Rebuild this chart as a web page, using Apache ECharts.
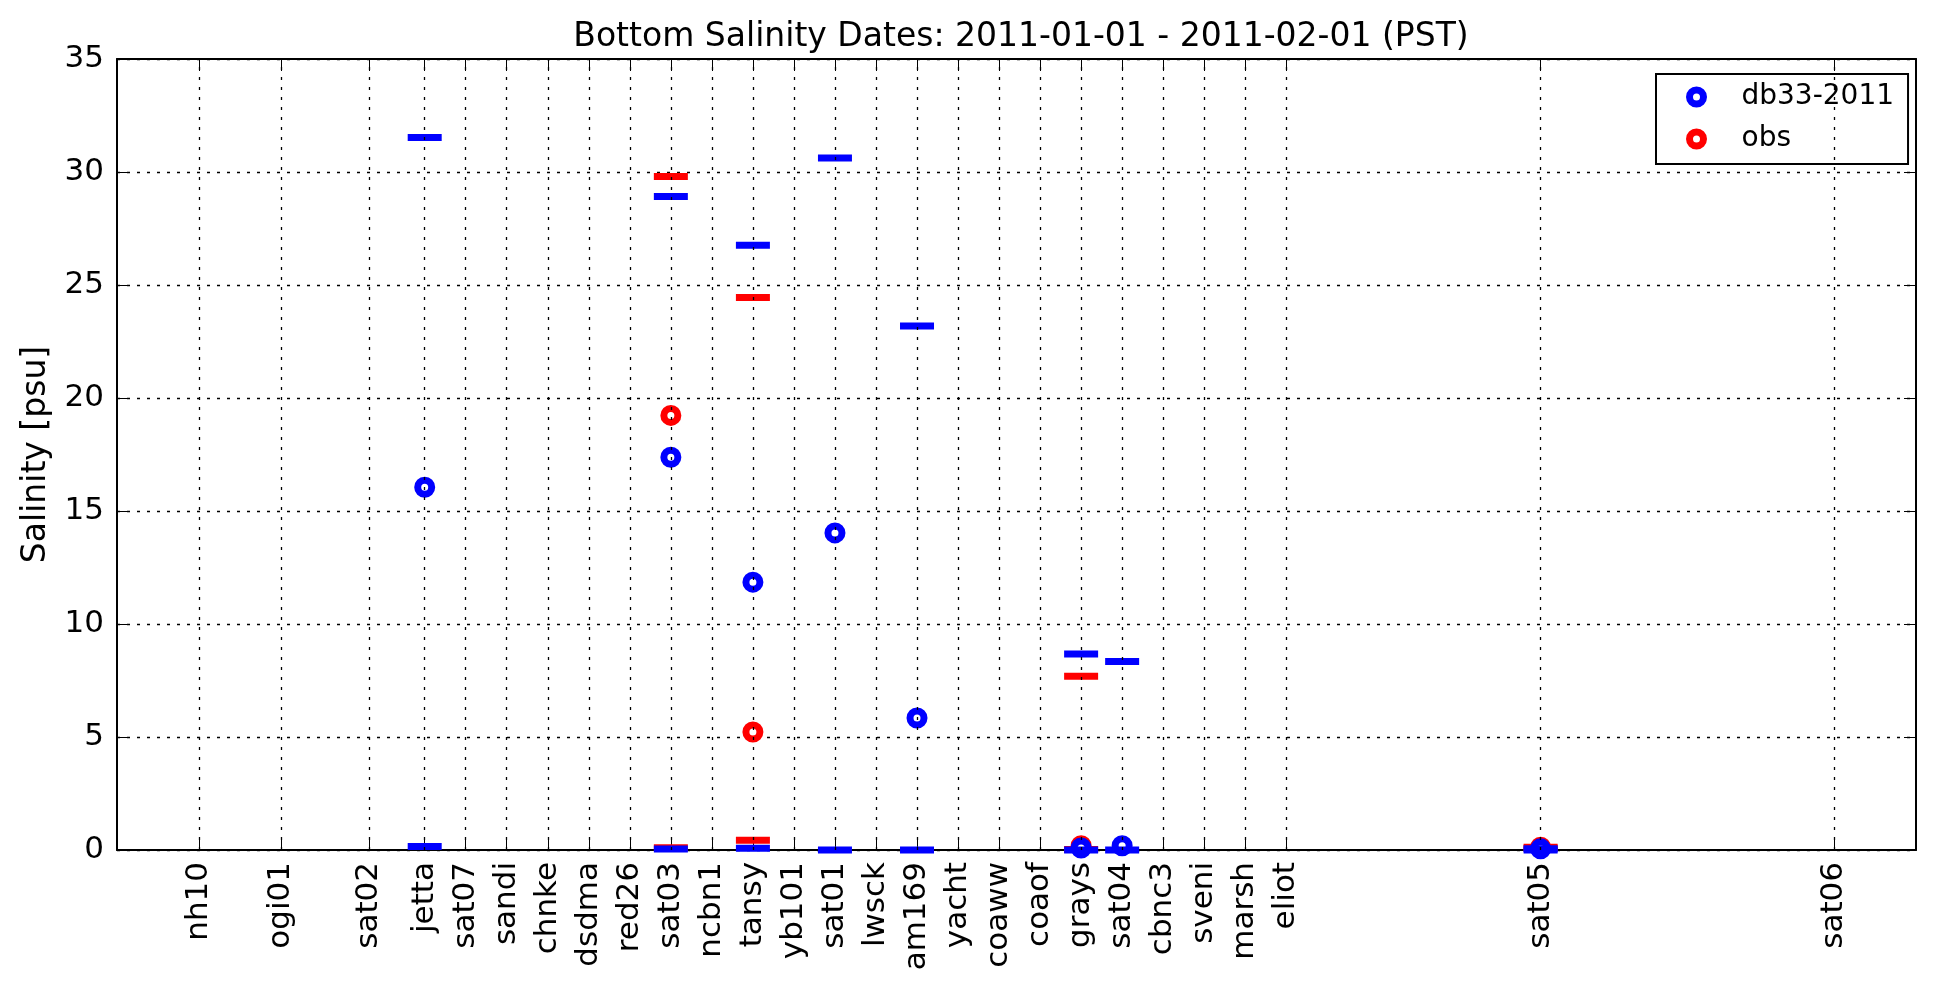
<!DOCTYPE html>
<html><head><meta charset="utf-8">
<script src="https://cdn.jsdelivr.net/npm/echarts@6/dist/echarts.min.js"></script>
<style>html,body{margin:0;padding:0;background:#fff}#c{width:1935px;height:993px}</style>
</head><body><div id="c"></div>
<script>
const stations = ['nh10','ogi01','sat02','jetta','sat07','sandi','chnke','dsdma','red26','sat03','ncbn1','tansy','yb101','sat01','lwsck','am169','yacht','coaww','coaof','grays','sat04','cbnc3','sveni','marsh','eliot','sat05','sat06'];
const stationPos = [2.0,4.0,6.15,7.5,8.5,9.5,10.5,11.5,12.5,13.5,14.5,15.5,16.5,17.5,18.5,19.5,20.5,21.5,22.5,23.5,24.5,25.5,26.5,27.5,28.5,34.7,41.85];
const yTicks = [0,5,10,15,20,25,30,35];

const modelMean = [null,null,null,16.05,null,null,null,null,null,17.38,null,11.85,null,14.03,null,5.84,null,null,null,0.09,0.19,null,null,null,null,0.05,null];
const modelMax  = [null,null,null,31.53,null,null,null,null,null,28.92,null,26.76,null,30.62,null,23.19,null,null,null,8.67,8.34,null,null,null,null,0.06,null];
const modelMin  = [null,null,null,0.15,null,null,null,null,null,0.04,null,0.08,null,0.0,null,0.0,null,null,null,0.0,0.0,null,null,null,null,0.0,null];
const obsMean   = [null,null,null,null,null,null,null,null,null,19.23,null,5.22,null,null,null,null,null,null,null,0.19,null,null,null,null,null,0.12,null];
const obsMax    = [null,null,null,null,null,null,null,null,null,29.8,null,24.45,null,null,null,null,null,null,null,7.69,null,null,null,null,null,0.12,null];
const obsMin    = [null,null,null,null,null,null,null,null,null,0.1,null,0.43,null,null,null,null,null,null,null,0.02,null,null,null,null,null,0.08,null];

const MODEL = 'db33-2011', OBS = 'obs';
const BLUE = '#0000ff', RED = '#ff0000';
const FONT = 'DejaVu Sans';

function pts(arr){ const out=[]; arr.forEach((v,i)=>{ if(v!=null) out.push([stationPos[i], v]); }); return out; }
function nameAt(v){ let best=0, d=Infinity; stationPos.forEach((p,i)=>{ const dd=Math.abs(p-v); if(dd<d){d=dd;best=i;} }); return stations[best]; }

const ringStyle = c => ({color:'#ffffff', borderColor:c, borderWidth:7, opacity:1});
const dash = (name, arr, c) => ({type:'scatter', name, data:pts(arr), symbol:'rect', symbolSize:[34,7], itemStyle:{color:c, opacity:1}, silent:true, clip:true});
const ring = (name, arr, c) => ({type:'scatter', name, data:pts(arr), symbol:'circle', symbolSize:14, itemStyle:ringStyle(c), silent:true, clip:true});

const gridLineStyle = {color:'#000', width:1.3, type:[3,7]};

const chart = echarts.init(document.getElementById('c'), null, {renderer:'canvas'});
chart.setOption({
  animation:false,
  backgroundColor:'#fff',
  textStyle:{fontFamily:FONT},
  title:{text:'Bottom Salinity Dates: 2011-01-01 - 2011-02-01 (PST)', left:1016, textAlign:'center', top:16,
    textStyle:{fontFamily:FONT, fontSize:33, fontWeight:'normal', color:'#000'}},
  grid:{left:117, right:19, top:59, bottom:143, containLabel:false},
  legend:{
    orient:'vertical', left:1656, top:74, padding:[8,14,10,30], itemGap:12,
    itemWidth:80, itemHeight:14, backgroundColor:'#fff', borderColor:'#000', borderWidth:2, borderRadius:0,
    textStyle:{fontFamily:FONT, fontSize:28, color:'#000', lineHeight:30},
    data:[
      {name:MODEL, icon:'circle', itemStyle:ringStyle(BLUE)},
      {name:OBS, icon:'circle', itemStyle:ringStyle(RED)}
    ]
  },
  xAxis:[
    {type:'value', position:'bottom', min:0, max:43.85,
     axisLine:{show:true, onZero:false, lineStyle:{color:'#000', width:2}},
     axisTick:{show:true, inside:true, length:12, customValues:stationPos, lineStyle:{color:'#000', width:1}},
     axisLabel:{show:true, customValues:stationPos, rotate:90, margin:12, fontFamily:FONT, fontSize:31, color:'#000', formatter:v=>nameAt(v)},
     splitLine:{show:false}},
    {type:'value', position:'top', min:0, max:43.85,
     axisLine:{show:true, onZero:false, lineStyle:{color:'#000', width:2}},
     axisTick:{show:true, inside:true, length:12, customValues:stationPos, lineStyle:{color:'#000', width:1}},
     axisLabel:{show:false}, splitLine:{show:false}}
  ],
  yAxis:[
    {type:'value', position:'left', min:yTicks[0], max:yTicks[yTicks.length-1], interval:5,
     name:'Salinity [psu]', nameLocation:'middle', nameGap:64, nameRotate:90,
     nameTextStyle:{fontFamily:FONT, fontSize:33, color:'#000'},
     axisLine:{show:true, onZero:false, lineStyle:{color:'#000', width:2}},
     axisTick:{show:true, inside:true, length:12, lineStyle:{color:'#000', width:1}},
     axisLabel:{fontFamily:FONT, fontSize:31, color:'#000', margin:13},
     splitLine:{show:true, lineStyle:gridLineStyle}},
    {type:'value', position:'right', min:yTicks[0], max:yTicks[yTicks.length-1], interval:5,
     axisLine:{show:true, onZero:false, lineStyle:{color:'#000', width:2}},
     axisTick:{show:true, inside:true, length:12, lineStyle:{color:'#000', width:1}},
     axisLabel:{show:false}, splitLine:{show:false}}
  ],
  series:[
    {type:'line', name:'grid', data:[], silent:true, z:1,
     markLine:{silent:true, symbol:['none','none'], animation:false, label:{show:false},
       lineStyle:gridLineStyle, emphasis:{disabled:true},
       data:stationPos.map(p=>({xAxis:p}))}},
    ring(OBS, obsMean, RED),
    dash('obs max', obsMax, RED),
    dash('obs min', obsMin, RED),
    ring(MODEL, modelMean, BLUE),
    dash('model max', modelMax, BLUE),
    dash('model min', modelMin, BLUE)
  ]
});
</script></body></html>
